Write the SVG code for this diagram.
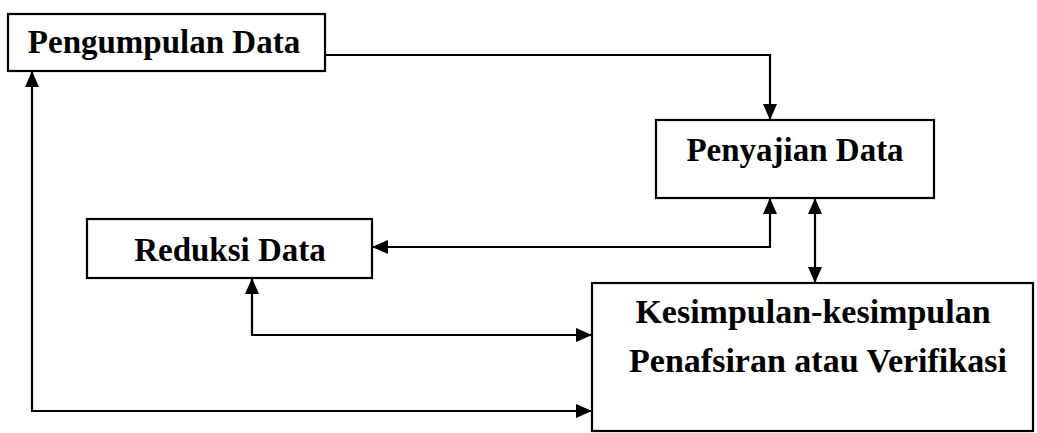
<svg xmlns="http://www.w3.org/2000/svg" width="1037" height="433" viewBox="0 0 1037 433">
<style>
.box{fill:#fff;stroke:#000;stroke-width:2.2}
.lbl{font-family:"Liberation Serif","Times New Roman",serif;font-weight:bold;font-size:33px;fill:#000;text-anchor:middle}
.big{font-size:34px}
.con{fill:none;stroke:#000;stroke-width:2.2}
</style>
<defs>
<marker id="ah" markerUnits="userSpaceOnUse" markerWidth="16" markerHeight="14" refX="16" refY="7" orient="auto-start-reverse">
<path d="M0,0 L16,7 L0,14 z" fill="#000"/>
</marker>
</defs>
<rect width="1037" height="433" fill="#fff"/>
<g id="connectors">
<path class="con" d="M325,55 H770 V120" marker-end="url(#ah)"/>
<path class="con" d="M770,198 V247 H372" marker-start="url(#ah)" marker-end="url(#ah)"/>
<path class="con" d="M815,198 V283" marker-start="url(#ah)" marker-end="url(#ah)"/>
<path class="con" d="M252,278 V335 H592" marker-start="url(#ah)" marker-end="url(#ah)"/>
<path class="con" d="M32,71 V411 H592" marker-start="url(#ah)" marker-end="url(#ah)"/>
</g>
<g id="pengumpulan">
<rect class="box" x="8" y="14" width="317" height="57"/>
<text class="lbl" x="164" y="53">Pengumpulan Data</text>
</g>
<g id="penyajian">
<rect class="box" x="656" y="120" width="278" height="78"/>
<text class="lbl" x="795" y="161">Penyajian Data</text>
</g>
<g id="reduksi">
<rect class="box" x="87" y="219" width="285" height="59"/>
<text class="lbl" x="230" y="261">Reduksi Data</text>
</g>
<g id="kesimpulan">
<rect class="box" x="592" y="283" width="441" height="148"/>
<text class="lbl big" x="813" y="323">Kesimpulan-kesimpulan</text>
<text class="lbl big" x="818" y="372">Penafsiran atau Verifikasi</text>
</g>
</svg>
